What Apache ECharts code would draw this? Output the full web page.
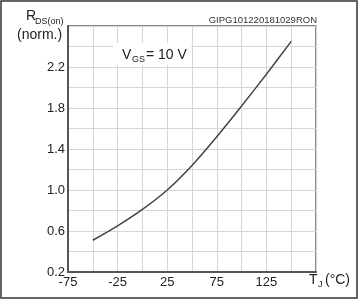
<!DOCTYPE html>
<html>
<head>
<meta charset="utf-8">
<script src="https://cdn.jsdelivr.net/npm/echarts@6/dist/echarts.min.js"></script>
<style>
  html, body { margin: 0; padding: 0; background: #fff; }
  #chart { width: 359px; height: 300px; }
</style>
</head>
<body>
<div id="chart"></div>
<script>
// junction temperature (°C) vs normalized on-resistance
const tempC = [-50, -25, 0, 25, 50, 75, 100, 125, 150];
const rdsNorm = [0.51, 0.65, 0.81, 1.0, 1.24, 1.52, 1.82, 2.13, 2.45];

const xTickLabels = [-75, -25, 25, 75, 125];
const yTickLabels = [0.2, 0.6, 1.0, 1.4, 1.8, 2.2];

const font = 'Liberation Sans, Arial, sans-serif';
const chart = echarts.init(document.getElementById('chart'));

function label(text, left, top, size) {
  return {
    type: 'text',
    left: left,
    top: top,
    z: 20,
    silent: true,
    style: { text: text, fontFamily: font, fontSize: size, fill: '#222' }
  };
}

const option = {
  animation: false,
  grid: {
    left: 68,
    top: 26,
    right: 43,
    bottom: 28,
    show: true,
    borderColor: '#666',
    borderWidth: 1.5
  },
  xAxis: {
    type: 'value',
    min: -75,
    max: 175,
    interval: 25,
    axisLine: { onZero: false, lineStyle: { color: '#555', width: 2 } },
    axisTick: { show: false },
    splitLine: { lineStyle: { color: '#d6d6d6', width: 1 } },
    axisLabel: {
      margin: 4,
      color: '#222',
      fontFamily: font,
      fontSize: 13,
      formatter: (v) => xTickLabels.includes(Math.round(v)) ? String(Math.round(v)) : ''
    }
  },
  yAxis: {
    type: 'value',
    min: 0.2,
    max: 2.6,
    interval: 0.2,
    axisLine: { show: true, onZero: false, lineStyle: { color: '#555', width: 2 } },
    axisTick: { show: false },
    splitLine: { lineStyle: { color: '#d6d6d6', width: 1 } },
    axisLabel: {
      margin: 3,
      color: '#222',
      fontFamily: font,
      fontSize: 13,
      formatter: (v) => {
        const k = Math.round(v * 10);
        return yTickLabels.some(t => Math.round(t * 10) === k) ? (k / 10).toFixed(1) : '';
      }
    }
  },
  series: [
    {
      type: 'line',
      data: tempC.map((t, i) => [t, rdsNorm[i]]),
      smooth: 0.3,
      showSymbol: false,
      lineStyle: { color: '#444', width: 1.5 }
    }
  ],
  graphic: [
    {
      type: 'rect',
      shape: { x: 1, y: 1, width: 356, height: 297 },
      style: { fill: 'none', stroke: '#333', lineWidth: 1.5 },
      silent: true
    },
    // white box behind the condition text
    {
      type: 'rect',
      z: 15,
      shape: { x: 113, y: 43, width: 78, height: 22 },
      style: { fill: '#fff' },
      silent: true
    },
    // y axis title
    label('R', 26, 9, 14),
    label('DS(on)', 35, 17, 9),
    label('(norm.)', 17, 28, 14),
    // figure code
    {
      type: 'text',
      right: 42,
      top: 15,
      z: 20,
      silent: true,
      style: { text: 'GIPG101220181029RON', fontFamily: font, fontSize: 9.5, fill: '#333' }
    },
    // condition
    label('V', 122, 48, 14),
    label('GS', 132, 55, 9),
    label('= 10 V', 146, 48, 14),
    // x axis title
    label('T', 309, 273, 14),
    label('J', 318, 280, 9),
    label('(°C)', 325, 273, 14)
  ]
};

chart.setOption(option);
</script>
</body>
</html>
